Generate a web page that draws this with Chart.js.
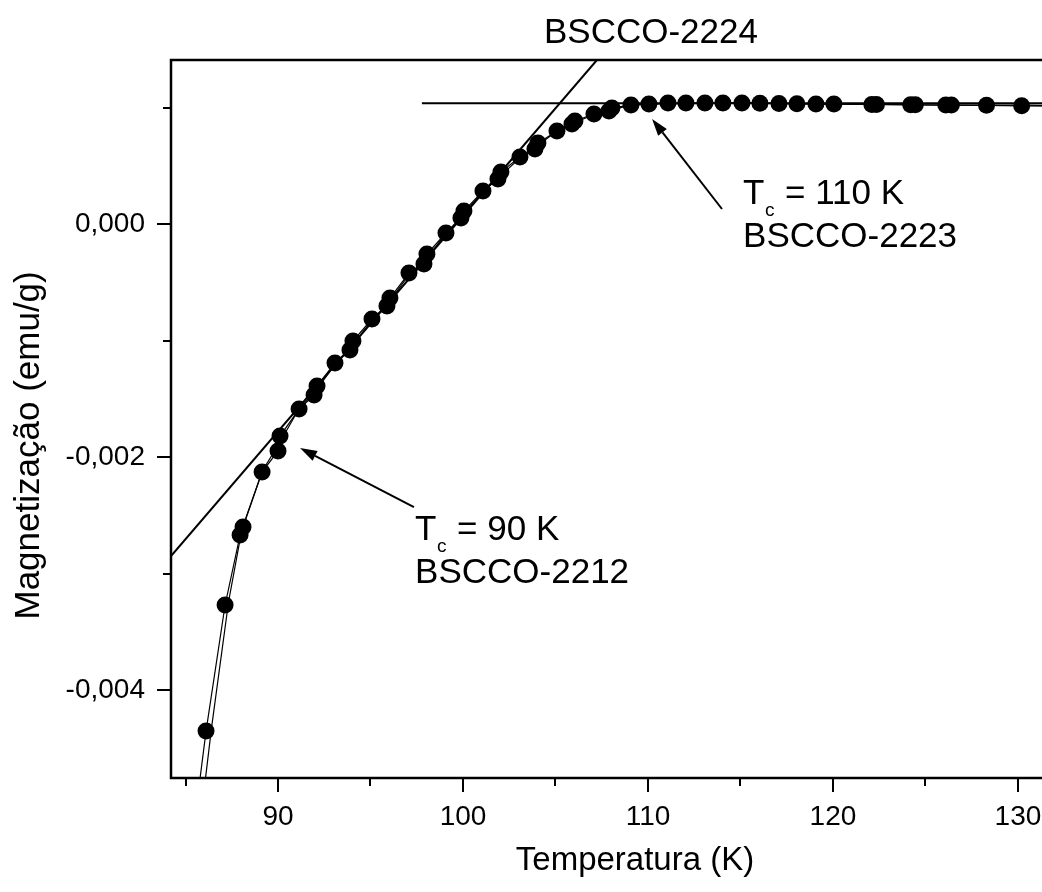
<!DOCTYPE html>
<html lang="pt">
<head>
<meta charset="utf-8">
<script src="https://cdn.jsdelivr.net/npm/chart.js@4"></script>
<style>
  html, body { margin: 0; padding: 0; background: #fff; overflow: hidden; }
  canvas { display: block; }
</style>
</head>
<body>
<canvas id="grafico" width="1110" height="892"></canvas>
<script>
// medidas (pontos com simbolo)
const temperaturas = [85.30, 86.11, 87.14, 87.95, 88.11, 89.14, 90.00, 90.11, 91.14, 91.95, 92.11,
  93.08, 93.89, 94.05, 95.08, 95.89, 96.05, 97.08, 97.89, 98.05, 99.08, 99.89, 100.05,
  101.08, 101.89, 102.05, 103.08, 103.89, 104.05, 105.08, 105.89, 106.05, 107.08, 107.89,
  108.05, 109.08, 110.05, 111.08, 112.05, 113.08, 114.05, 115.08, 116.05, 117.08, 118.05,
  119.08, 120.05, 122.10, 122.35, 124.20, 124.45, 126.10, 126.40, 128.30, 130.20, 132.20];
const magnetizacao = [-0.00537, -0.004352, -0.003270, -0.002670, -0.002601, -0.002129, -0.001948,
  -0.001820, -0.001588, -0.001468, -0.001390, -0.001193, -0.001082, -0.001004, -0.000815,
  -0.000704, -0.000635, -0.000421, -0.000343, -0.000258, -0.000077, 0.000052, 0.000112,
  0.000283, 0.000386, 0.000446, 0.000575, 0.000644, 0.000695, 0.000798, 0.000858, 0.000884,
  0.000944, 0.000970, 0.000996, 0.001022, 0.001030, 0.001039, 0.001039, 0.001039, 0.001039,
  0.001039, 0.001036, 0.001034, 0.001032, 0.001030, 0.001030, 0.001026, 0.001026, 0.001024,
  0.001024, 0.001021, 0.001021, 0.001019, 0.001015, 0.001012];

// segunda curva (so linha)
const temperaturasCurva2 = [85.62, 86.41, 87.33, 88.05, 89.15, 90.08, 91.12, 92.10, 93.10, 94.00,
  95.10, 96.00, 97.10, 98.00, 99.10, 100.00, 101.10, 102.00, 103.10, 104.00, 105.10, 106.00,
  107.10, 108.00, 109.10, 110.10, 115.00, 120.00, 126.00, 130.40, 134.40];
const magnetizacaoCurva2 = [-0.00537, -0.00432, -0.00324, -0.00262, -0.00212, -0.00188, -0.00159,
  -0.00142, -0.00120, -0.00105, -0.00082, -0.00067, -0.00043, -0.00030, -0.00008, 0.00008,
  0.00028, 0.00041, 0.00057, 0.00067, 0.00080, 0.00087, 0.00094, 0.00098, 0.00102, 0.00103,
  0.00104, 0.00103, 0.00102, 0.00102, 0.00101];

// retas auxiliares
const retaT = [84.216, 107.24];
const retaM = [-0.00285, 0.001408];
const patamarT = [97.78, 134.38];
const patamarM = [0.001036, 0.001036];

// eixos
const ticksX = [85, 90, 95, 100, 105, 110, 115, 120, 125, 130];
const ticksY = [-0.004, -0.003, -0.002, -0.001, 0, 0.001];

const fonte = '"Liberation Sans", Arial, sans-serif';

function pontos(xs, ys) {
  return xs.map((t, i) => ({ x: t, y: ys[i] }));
}

function seta(ctx, x0, y0, x1, y1) {
  const ang = Math.atan2(y1 - y0, x1 - x0);
  const comp = 17, meia = 5.5;
  const bx = x1 - comp * Math.cos(ang), by = y1 - comp * Math.sin(ang);
  ctx.beginPath();
  ctx.moveTo(x0, y0);
  ctx.lineTo(bx, by);
  ctx.stroke();
  ctx.beginPath();
  ctx.moveTo(x1, y1);
  ctx.lineTo(bx + meia * Math.sin(ang), by - meia * Math.cos(ang));
  ctx.lineTo(bx - meia * Math.sin(ang), by + meia * Math.cos(ang));
  ctx.closePath();
  ctx.fill();
}

function escreverTc(ctx, x, y, resto, nome) {
  ctx.font = '35px ' + fonte;
  ctx.fillText('T', x, y);
  ctx.fillText(resto, x + 42, y);
  ctx.fillText(nome, x, y + 43);
  ctx.font = '19px ' + fonte;
  ctx.fillText('c', x + 22, y + 12);
}

const moldura = {
  id: 'moldura',
  afterDraw(chart) {
    const { ctx, chartArea: a, scales: { x, y } } = chart;
    ctx.save();
    ctx.strokeStyle = '#000';
    ctx.fillStyle = '#000';
    ctx.lineWidth = 2.5;
    ctx.strokeRect(a.left, a.top, a.right - a.left, a.bottom - a.top);

    ctx.lineWidth = 2;
    ctx.beginPath();
    x.ticks.forEach(t => {
      const px = Math.round(x.getPixelForValue(t.value));
      const len = t.label ? 14 : 8;
      ctx.moveTo(px, a.bottom);
      ctx.lineTo(px, a.bottom + len);
    });
    y.ticks.forEach(t => {
      const py = Math.round(y.getPixelForValue(t.value));
      const len = t.label ? 14 : 8;
      ctx.moveTo(a.left, py);
      ctx.lineTo(a.left - len, py);
    });
    ctx.stroke();

    // setas
    seta(ctx, x.getPixelForValue(114.0), y.getPixelForValue(0.000129),
      x.getPixelForValue(110.22), y.getPixelForValue(0.000901));
    seta(ctx, x.getPixelForValue(97.35), y.getPixelForValue(-0.002429),
      x.getPixelForValue(91.19), y.getPixelForValue(-0.001923));

    // textos
    ctx.textBaseline = 'alphabetic';
    ctx.textAlign = 'left';
    escreverTc(ctx, x.getPixelForValue(115.14), y.getPixelForValue(0.000172), '= 110 K', 'BSCCO-2223');
    escreverTc(ctx, x.getPixelForValue(97.41), y.getPixelForValue(-0.002712), '= 90 K', 'BSCCO-2212');
    ctx.font = '35px ' + fonte;
    ctx.textAlign = 'center';
    ctx.fillText('BSCCO-2224', x.getPixelForValue(110.16), y.getPixelForValue(0.001554));

    // titulo do eixo y
    ctx.translate(29, y.getPixelForValue(-0.0019));
    ctx.rotate(-Math.PI / 2);
    ctx.textBaseline = 'middle';
    ctx.fillText('Magnetização (emu/g)', 0, 0);
    ctx.restore();
  }
};

const ctx = document.getElementById('grafico').getContext('2d');
const grafico = new Chart(ctx, {
  type: 'scatter',
  data: {
    datasets: [
      {
        data: pontos(retaT, retaM),
        showLine: true,
        borderColor: '#000',
        borderWidth: 2,
        pointRadius: 0
      },
      {
        data: pontos(patamarT, patamarM),
        showLine: true,
        borderColor: '#000',
        borderWidth: 2,
        pointRadius: 0
      },
      {
        data: pontos(temperaturasCurva2, magnetizacaoCurva2),
        showLine: true,
        borderColor: '#000',
        borderWidth: 1.2,
        pointRadius: 0
      },
      {
        data: pontos(temperaturas, magnetizacao),
        showLine: true,
        borderColor: '#000',
        borderWidth: 1.2,
        pointRadius: 8.5,
        pointBackgroundColor: '#000',
        pointBorderWidth: 0
      }
    ]
  },
  options: {
    responsive: false,
    animation: false,
    devicePixelRatio: 1,
    layout: { padding: { top: 60, right: 11, left: 0, bottom: 0 } },
    plugins: {
      legend: { display: false },
      tooltip: { enabled: false }
    },
    scales: {
      x: {
        type: 'linear',
        min: 84.216,
        max: 134.38,
        afterFit: (s) => { s.height = 114; },
        afterBuildTicks: (s) => { s.ticks = ticksX.map(v => ({ value: v })); },
        grid: { display: false, drawTicks: false },
        border: { display: false },
        ticks: {
          autoSkip: false,
          maxRotation: 0,
          padding: 22,
          color: '#000',
          font: { family: fonte, size: 28 },
          callback: (v) => (Math.round(v) % 10 === 0 ? String(Math.round(v)) : '')
        },
        title: {
          display: true,
          text: 'Temperatura (K)',
          color: '#000',
          font: { family: fonte, size: 33 },
          padding: { top: 0, bottom: 11 }
        }
      },
      y: {
        type: 'linear',
        min: -0.004755,
        max: 0.001408,
        afterFit: (s) => { s.width = 171; },
        afterBuildTicks: (s) => { s.ticks = ticksY.map(v => ({ value: v })); },
        grid: { display: false, drawTicks: false },
        border: { display: false },
        ticks: {
          autoSkip: false,
          padding: 26,
          color: '#000',
          font: { family: fonte, size: 28 },
          callback: (v) => {
            const m = Math.round(v * 1000);
            if (m % 2 !== 0) return '';
            return m === 0 ? '0,000' : v.toFixed(3).replace('.', ',');
          }
        },
        title: { display: false }
      }
    }
  },
  plugins: [moldura]
});
</script>
</body>
</html>
